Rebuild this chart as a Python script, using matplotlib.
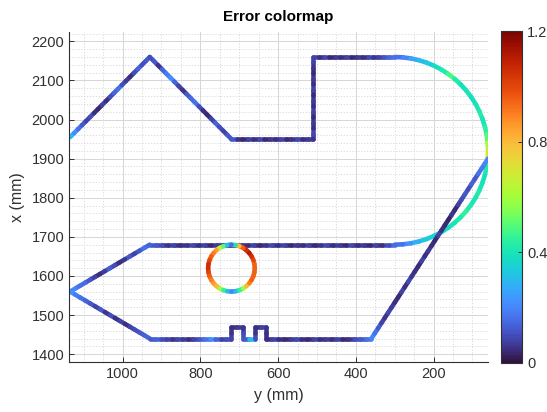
import numpy as np
import matplotlib
matplotlib.use('Agg')
import matplotlib.pyplot as plt
from matplotlib.collections import LineCollection
from matplotlib.ticker import MultipleLocator

plt.rcParams['font.family'] = ['Liberation Sans', 'DejaVu Sans']

# path corners, (y mm, x mm)
corners_top = [(1135, 1955), (930, 2160), (720, 1950), (510, 1950), (510, 2160), (300, 2160)]
corners_bottom = [(300, 1680), (930, 1680), (1135, 1560), (930, 1440), (720, 1440),
	(720, 1470), (690, 1470), (690, 1440), (660, 1440), (660, 1470), (630, 1470), (630, 1440),
	(360, 1440), (60, 1900)]

# half circle on the right, from top to bottom
arc_center = (300, 1920)
arc_radius = 240

# small circle
ring_center = (720, 1620)
ring_radius = 60

# error (mm) read along each leg
err_top = [
	[0.30, 0.22, 0.16, 0.12, 0.08, 0.10, 0.05, 0.04, 0.08, 0.05, 0.10, 0.14, 0.16, 0.10, 0.07, 0.05, 0.10, 0.14, 0.10, 0.12],
	[0.10, 0.12, 0.06, 0.14, 0.18, 0.22, 0.14, 0.08, 0.06, 0.12, 0.15, 0.16, 0.10, 0.05, 0.04, 0.08, 0.14, 0.10, 0.08, 0.12],
	[0.12, 0.06, 0.04, 0.08, 0.05, 0.09, 0.04, 0.07, 0.05, 0.08, 0.04, 0.06, 0.09, 0.05, 0.07],
	[0.06, 0.09, 0.05, 0.07, 0.04, 0.08, 0.05, 0.07, 0.04, 0.08, 0.05, 0.07, 0.04, 0.06, 0.08],
	[0.08, 0.05, 0.09, 0.04, 0.07, 0.05, 0.08, 0.04, 0.07, 0.05, 0.09, 0.06, 0.08, 0.12, 0.15],
]
err_arc = [0.16, 0.20, 0.26, 0.30, 0.34, 0.38, 0.42, 0.48, 0.42, 0.38, 0.40, 0.38, 0.40, 0.42, 0.40, 0.44, 0.50, 0.62,
	0.70, 0.52, 0.42, 0.38, 0.40, 0.42, 0.40, 0.42, 0.45, 0.42, 0.40, 0.38, 0.36, 0.35, 0.32, 0.28, 0.22, 0.16]
err_bottom = [
	[0.15, 0.10, 0.05, 0.08, 0.04, 0.07, 0.05, 0.09, 0.04, 0.07, 0.05, 0.09, 0.06, 0.04, 0.08, 0.05, 0.07, 0.04, 0.08, 0.05,
		0.09, 0.06, 0.04, 0.08, 0.05, 0.07, 0.04, 0.09, 0.05, 0.07, 0.04, 0.08, 0.05, 0.09, 0.06, 0.05, 0.08, 0.06, 0.10, 0.12],
	[0.14, 0.16, 0.12, 0.08, 0.12, 0.06, 0.05, 0.10, 0.13, 0.07, 0.05, 0.08, 0.12, 0.15, 0.16, 0.20],
	[0.22, 0.18, 0.16, 0.14, 0.12, 0.08, 0.12, 0.06, 0.10, 0.05, 0.08, 0.05, 0.08, 0.10, 0.12, 0.14],
	[0.12, 0.14, 0.10, 0.08, 0.06, 0.09, 0.07, 0.05, 0.08, 0.12, 0.16, 0.22, 0.14, 0.08, 0.10],
	[0.08, 0.06],
	[0.05, 0.07],
	[0.06, 0.10],
	[0.12, 0.30],
	[0.10, 0.06],
	[0.05, 0.08],
	[0.06, 0.05],
	[0.05, 0.08, 0.05, 0.04, 0.07, 0.09, 0.05, 0.04, 0.08, 0.05, 0.07, 0.05, 0.08, 0.04, 0.06, 0.10, 0.12, 0.16],
	[0.20, 0.16, 0.12, 0.08, 0.06, 0.09, 0.07, 0.05, 0.04, 0.08, 0.05, 0.09, 0.06, 0.05, 0.04, 0.08, 0.05, 0.07, 0.05, 0.04,
		0.08, 0.05, 0.04, 0.03, 0.06, 0.04, 0.08, 0.10, 0.12, 0.10, 0.14, 0.12, 0.16, 0.18, 0.20],
]
err_ring = [0.95, 0.95, 1.00, 1.05, 1.10, 1.05, 0.95, 0.80, 0.40, 0.15, 0.30, 0.50, 0.70, 0.85, 0.90, 0.95, 1.00, 1.05,
	1.05, 1.00, 0.95, 0.90, 0.85, 0.80, 0.60, 0.45, 0.30, 0.20, 0.30, 0.45, 0.60, 0.80, 0.90, 0.95, 0.95, 0.95]

cbar_ticks = [0, 0.4, 0.8, 1.2]
cbar_labels = ['0', '0.4', '0.8', '1.2']


def leg_segments(corners, errs):
	segs, vals = [], []
	for (a, b), e in zip(zip(corners[:-1], corners[1:]), errs):
		h = np.linspace(a[0], b[0], len(e) + 1)
		v = np.linspace(a[1], b[1], len(e) + 1)
		pts = np.column_stack([h, v])
		segs += [pts[i:i + 2] for i in range(len(e))]
		vals += e
	return segs, vals


def round_segments(center, r, t0, t1, errs):
	# x axis is reversed, so screen angle t maps to y = cy - r cos t
	t = np.radians(np.linspace(t0, t1, len(errs) + 1))
	pts = np.column_stack([center[0] - r * np.cos(t), center[1] + r * np.sin(t)])
	return [pts[i:i + 2] for i in range(len(errs))], list(errs)


s1, e1 = leg_segments(corners_top, err_top)
s2, e2 = round_segments(arc_center, arc_radius, 90, -90, err_arc)
s3, e3 = leg_segments(corners_bottom, err_bottom)
s4, e4 = round_segments(ring_center, ring_radius, 0, 360, err_ring)

fig = plt.figure(figsize=(5.47, 4.12), dpi=100)
ax = fig.add_axes([0.1267, 0.1214, 0.7655, 0.801])
cax = fig.add_axes([0.9154, 0.1197, 0.0395, 0.8044])

dark = '#303030'
for segs, vals in [(s1 + s2 + s3, e1 + e2 + e3), (s4, e4)]:
	lc = LineCollection(segs, cmap='turbo', linewidths=3.3, capstyle='round', joinstyle='round')
	lc.set_array(np.array(vals))
	lc.set_clim(0, 1.2)
	ax.add_collection(lc)

ax.set_xlim(1137, 60)
ax.set_ylim(1380, 2224)
ax.xaxis.set_major_locator(MultipleLocator(200))
ax.xaxis.set_minor_locator(MultipleLocator(50))
ax.yaxis.set_major_locator(MultipleLocator(100))
ax.yaxis.set_minor_locator(MultipleLocator(20))
ax.grid(which='major', color='#d6d6d6', lw=0.7)
ax.grid(which='minor', color='#d6d6d6', lw=0.6, ls=(0, (1.5, 2)))
ax.set_axisbelow(True)
for s in ['top', 'right']:
	ax.spines[s].set_visible(False)
for s in ['left', 'bottom']:
	ax.spines[s].set_color(dark)
	ax.spines[s].set_linewidth(0.8)
ax.tick_params(which='major', direction='in', length=3.5, width=0.7, colors=dark, labelsize=10.5)
ax.tick_params(which='minor', length=0)

ax.set_title('Error colormap', fontsize=11, fontweight='bold', pad=8)
ax.set_xlabel('y (mm)', fontsize=11.5, color=dark, labelpad=5)
ax.set_ylabel('x (mm)', fontsize=11.5, color=dark, labelpad=5)

cb = fig.colorbar(lc, cax=cax)
cb.set_ticks(cbar_ticks)
cb.set_ticklabels(cbar_labels)
cb.outline.set_edgecolor(dark)
cb.outline.set_linewidth(0.8)
cax.tick_params(direction='in', length=3, width=0.7, colors=dark, labelsize=10.5)

fig.savefig('out.png', dpi=100)
